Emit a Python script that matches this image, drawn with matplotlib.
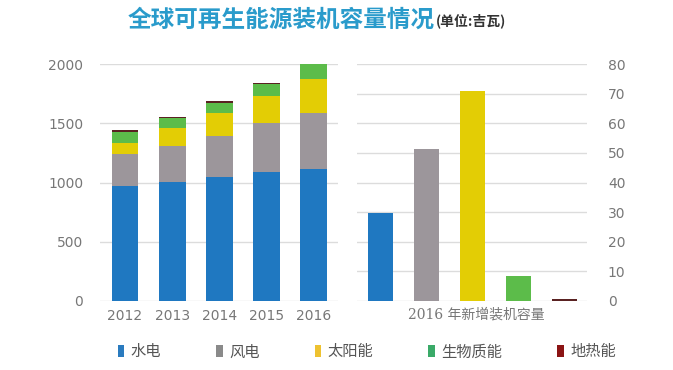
import numpy as np
import matplotlib.pyplot as plt
from matplotlib.patches import Patch

plt.rcParams['font.family'] = ['DejaVu Sans', 'Noto Sans CJK SC']

years = ['2012', '2013', '2014', '2015', '2016']
# segment heights (GW)
hydro = [970, 1007, 1049, 1086, 1114]
wind = [272, 304, 343, 413, 470]
solar = [95, 146, 191, 231, 289]
bio = [92, 84, 85, 98, 127]
geo = [12, 12, 18, 12, 12]

new_names = ['水电', '风电', '太阳能', '生物质能', '地热能']
new_2016 = [29.6, 51.3, 71.0, 8.4, 0.6]

colors = ['#1f78c1', '#9c969b', '#e3cd05', '#5cbc4a', '#5a2222']
legend_colors = ['#2a7bbf', '#8a8a8a', '#eec230', '#3aaa68', '#8b1414']

fig = plt.figure(figsize=(6.73, 3.70), dpi=100)

# left: stacked totals
ax1 = fig.add_axes([0.1486, 0.1865, 0.3536, 0.6405])
x = np.arange(len(years))
bottom = np.zeros(len(years))
for vals, c in zip([hydro, wind, solar, bio, geo], colors):
    ax1.bar(x, vals, bottom=bottom, width=0.57, color=c, zorder=3)
    bottom += np.array(vals)
ax1.set_xlim(-0.53, 4.51)
ax1.set_ylim(0, 2000)
ax1.set_yticks([0, 500, 1000, 1500, 2000])
ax1.set_xticks(x)
ax1.set_xticklabels(years)

# right: 2016 additions
ax2 = fig.add_axes([0.5305, 0.1865, 0.3418, 0.6405])
x2 = np.arange(len(new_names))
ax2.bar(x2, new_2016, width=0.54, color=colors, zorder=3)
ax2.set_xlim(-0.5, 4.48)
ax2.set_ylim(0, 80)
ax2.set_yticks(range(0, 81, 10))
ax2.yaxis.tick_right()
ax2.set_xticks([2.08])
ax2.set_xticklabels(['2016 年新增装机容量'], family=['DejaVu Serif', 'Noto Sans CJK SC'],
                    fontsize=9.5, color='#444444')

for ax in (ax1, ax2):
    for s in ax.spines.values():
        s.set_visible(False)
    ax.grid(axis='y', color='#dcdcdc', linewidth=1, zorder=0)
    ax.tick_params(length=0, labelsize=10, labelcolor='#777777')
ax1.tick_params(axis='y', pad=12)
ax1.tick_params(axis='x', pad=6)
ax2.tick_params(axis='y', pad=15)
ax2.tick_params(axis='x', pad=5)

# title
fig.text(0.646, 0.946, '全球可再生能源装机容量情况', ha='right', va='center',
         fontsize=17, fontweight='bold', color='#2a9bcb', family='Noto Sans CJK SC')
fig.text(0.648, 0.943, '(单位:吉瓦)', ha='left', va='center',
         fontsize=10, fontweight='bold', color='#333333', family='Noto Sans CJK SC')

handles = [Patch(facecolor=c, edgecolor='none') for c in legend_colors]
fig.legend(handles, new_names, loc='center', bbox_to_anchor=(0.545, 0.049), ncol=5,
           frameon=False, handlelength=0.45, handleheight=0.9, handletextpad=0.4,
           columnspacing=3.6, prop={'family': 'Noto Sans CJK SC', 'size': 11},
           labelcolor='#555555')

fig.savefig('out.png', dpi=100)
